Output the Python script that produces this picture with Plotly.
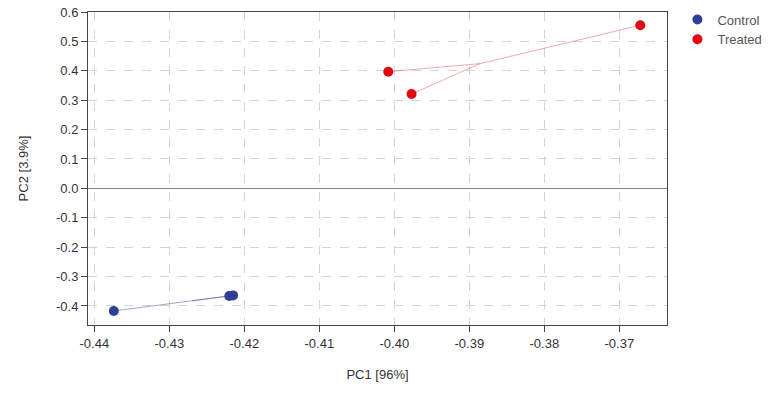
import plotly.graph_objects as go

groups = ["Control", "Treated"]
control_pc1 = [-0.4374, -0.4220, -0.4215]
control_pc2 = [-0.417, -0.366, -0.364]
treated_pc1 = [-0.4008, -0.3977, -0.3672]
treated_pc2 = [0.397, 0.321, 0.555]
colors = {"Control": "#2E3F94", "Treated": "#E30613"}
line_colors = {"Control": "rgba(46,63,148,0.45)", "Treated": "rgba(227,6,19,0.35)"}

x_ticks = [-0.44, -0.43, -0.42, -0.41, -0.40, -0.39, -0.38, -0.37]
x_ticktext = ["-0.44", "-0.43", "-0.42", "-0.41", "-0.40", "-0.39", "-0.38", "-0.37"]
y_ticks = [0.6, 0.5, 0.4, 0.3, 0.2, 0.1, 0.0, -0.1, -0.2, -0.3, -0.4]
y_ticktext = ["0.6", "0.5", "0.4", "0.3", "0.2", "0.1", "0.0", "-0.1", "-0.2", "-0.3", "-0.4"]

data = {"Control": (control_pc1, control_pc2), "Treated": (treated_pc1, treated_pc2)}

fig = go.Figure()
# spider lines to centroid
for g in groups:
    xs, ys = data[g]
    cx = sum(xs) / len(xs)
    cy = sum(ys) / len(ys)
    lx, ly = [], []
    for x, y in zip(xs, ys):
        lx += [x, cx, None]
        ly += [y, cy, None]
    fig.add_trace(go.Scatter(x=lx, y=ly, mode="lines", line=dict(color=line_colors[g], width=1),
                             showlegend=False, hoverinfo="skip"))
for g in groups:
    xs, ys = data[g]
    fig.add_trace(go.Scatter(x=xs, y=ys, mode="markers", name=g,
                             marker=dict(color=colors[g], size=10)))

axis_common = dict(showline=True, linecolor="#444", linewidth=1, mirror=True,
                   ticks="outside", ticklen=6, tickcolor="#444",
                   showgrid=True, gridcolor="#d4d4d4", griddash="dash", gridwidth=1,
                   tickfont=dict(size=13, color="#333"))

fig.update_xaxes(range=[-0.44084, -0.36364], tickvals=x_ticks, ticktext=x_ticktext,
                 zeroline=False, title=dict(text="PC1 [96%]", font=dict(size=13, color="#333"), standoff=20),
                 **axis_common)
fig.update_yaxes(range=[-0.4647, 0.6], tickvals=y_ticks, ticktext=y_ticktext,
                 zeroline=True, zerolinecolor="#888", zerolinewidth=1,
                 title=dict(text="PC2 [3.9%]", font=dict(size=13, color="#333"), standoff=24),
                 **axis_common)

fig.update_layout(
    width=768, height=394,
    margin=dict(l=88, r=101, t=12, b=69, autoexpand=False),
    plot_bgcolor="white", paper_bgcolor="white",
    font=dict(family="Liberation Sans, Arial, sans-serif", size=12, color="#333"),
    legend=dict(x=1.018, y=1.024, xanchor="left", yanchor="top", itemwidth=30,
                font=dict(family="Liberation Sans, Arial, sans-serif", size=13, color="#555"),
                tracegroupgap=0),
)

fig.write_html("out.html")
